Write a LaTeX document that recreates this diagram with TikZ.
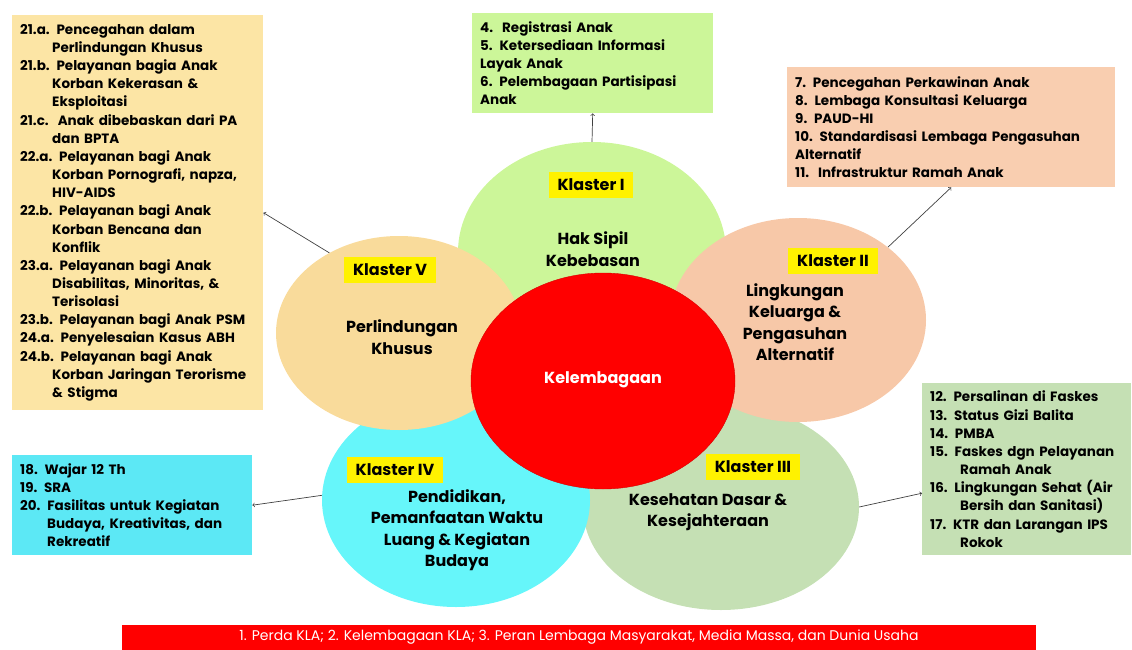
\documentclass[tikz,border=0pt]{standalone}
\usepackage{fontspec}
\setmainfont{Poppins}
\usetikzlibrary{shapes.geometric}

\definecolor{hijau}{RGB}{204,246,153}
\definecolor{peach}{RGB}{247,200,168}
\definecolor{peachbox}{RGB}{249,206,176}
\definecolor{sage}{RGB}{197,224,180}
\definecolor{sian}{RGB}{102,246,250}
\definecolor{sianbox}{RGB}{92,232,245}
\definecolor{kuning}{RGB}{249,219,155}
\definecolor{kuningbox}{RGB}{252,229,165}

\tikzset{
  petal/.style={ellipse, inner sep=0pt},
  listbox/.style={rectangle, anchor=north west, inner xsep=8pt, inner ysep=0pt, align=left,
    font=\fontsize{13.5}{18.15}\selectfont\bfseries},
  tag/.style={fill=yellow, inner xsep=9pt, inner ysep=7pt, font=\fontsize{16}{18}\selectfont\bfseries},
  petaltext/.style={align=center, font=\fontsize{16}{21.5}\selectfont\bfseries},
  link/.style={->, draw=black!75, line width=0.7pt}
}

\begin{document}
\begin{tikzpicture}[x=1pt, y=-1pt]
		%%%%% START %%%%%
		\useasboundingbox (0, 0) rectangle (1132, 650);
		
		% lists
		\node[listbox, fill=kuningbox, text width=235pt, minimum height=395pt] (perlindunganList) at (12, 15) {%
			21.a. Pencegahan dalam\\
			\hspace*{32pt}Perlindungan Khusus\\
			21.b. Pelayanan bagia Anak\\
			\hspace*{32pt}Korban Kekerasan \&\\
			\hspace*{32pt}Eksploitasi\\
			21.c.\ \ Anak dibebaskan dari PA\\
			\hspace*{32pt}dan BPTA\\
			22.a. Pelayanan bagi Anak\\
			\hspace*{32pt}Korban Pornografi, napza,\\
			\hspace*{32pt}HIV-AIDS\\
			22.b. Pelayanan bagi Anak\\
			\hspace*{32pt}Korban Bencana dan\\
			\hspace*{32pt}Konflik\\
			23.a. Pelayanan bagi Anak\\
			\hspace*{32pt}Disabilitas, Minoritas, \&\\
			\hspace*{32pt}Terisolasi\\
			23.b. Pelayanan bagi Anak PSM\\
			24.a. Penyelesaian Kasus ABH\\
			24.b. Pelayanan bagi Anak\\
			\hspace*{32pt}Korban Jaringan Terorisme\\
			\hspace*{32pt}\& Stigma};
		
		\node[listbox, fill=hijau, text width=225pt, minimum height=100pt] (hakList) at (472, 13) {%
			4.\ \ Registrasi Anak\\
			5. Ketersediaan Informasi\\
			Layak Anak\\
			6. Pelembagaan Partisipasi\\
			Anak};
		
		\node[listbox, fill=peachbox, text width=312pt, minimum height=120pt] (keluargaList) at (787, 67) {%
			7. Pencegahan Perkawinan Anak\\
			8. Lembaga Konsultasi Keluarga\\
			9. PAUD-HI\\
			10. Standardisasi Lembaga Pengasuhan\\
			Alternatif\\
			11.\ \ Infrastruktur Ramah Anak};
		
		\node[listbox, fill=sage, text width=193pt, minimum height=172pt] (kesehatanList) at (922, 383) {%
			12. Persalinan di Faskes\\
			13. Status Gizi Balita\\
			14. PMBA\\
			15. Faskes dgn Pelayanan\\
			\hspace*{30pt}Ramah Anak\\
			16. Lingkungan Sehat (Air\\
			\hspace*{30pt}Bersih dan Sanitasi)\\
			17. KTR dan Larangan IPS\\
			\hspace*{30pt}Rokok};
		
		\node[listbox, fill=sianbox, text width=224pt, minimum height=100pt] (pendidikanList) at (12, 455) {%
			18. Wajar 12 Th\\
			19. SRA\\
			20. Fasilitas untuk Kegiatan\\
			\hspace*{27pt}Budaya, Kreativitas, dan\\
			\hspace*{27pt}Rekreatif};
		
		% flower
		\node[petal, fill=hijau, minimum width=268pt, minimum height=220pt] (hak) at (592, 252) {};
		\node[petal, fill=sage, minimum width=276pt, minimum height=206pt] (kesehatan) at (721, 507) {};
		\node[petal, fill=peach, minimum width=256pt, minimum height=204pt] (keluarga) at (798, 320) {};
		\node[petal, fill=sian, minimum width=268pt, minimum height=214pt] (pendidikan) at (456, 500) {};
		\node[petal, fill=kuning, minimum width=246pt, minimum height=194pt] (perlindungan) at (399, 333) {};
		\node[petal, fill=red, draw=red!85!black, line width=0.4pt, minimum width=264pt, minimum height=216pt] (lembaga) at (603, 381) {};
		
		\node[tag] (tagI) at (591, 185) {Klaster I};
		\node[tag] (tagII) at (833, 261) {Klaster II};
		\node[tag] (tagIII) at (753, 467) {Klaster III};
		\node[tag] (tagIV) at (395, 470) {Klaster IV};
		\node[tag] (tagV) at (390, 270) {Klaster V};
		
		\node[petaltext] (hakText) at (593, 249) {Hak Sipil\\Kebebasan};
		\node[petaltext] (keluargaText) at (795, 322) {Lingkungan\\Keluarga \&\\Pengasuhan\\Alternatif};
		\node[petaltext] (kesehatanText) at (708, 512) {Kesehatan Dasar \&\\Kesejahteraan};
		\node[petaltext] (pendidikanText) at (457, 530) {Pendidikan,\\Pemanfaatan Waktu\\Luang \& Kegiatan\\Budaya};
		\node[petaltext] (perlindunganText) at (402, 337) {Perlindungan\\Khusus};
		\node[petaltext, text=white] (lembagaText) at (603, 380) {Kelembagaan};
		
		% arrows
		\draw[link] (hak.north) -- (hakList.south);
		\draw[link] (keluarga.39) -- (keluargaList.south);
		\draw[link] (kesehatan.east) -- ([yshift=-24pt]kesehatanList.west);
		\draw[link] (pendidikan.178) -- (pendidikanList.east);
		\draw[link] (perlindungan.131) -- (perlindunganList.east);
		
		% bottom bar
		\node[fill=red, text=white, minimum width=914pt, minimum height=25pt, inner sep=0pt,
			font=\fontsize{14}{16}\selectfont] (dasar) at (579, 637.5)
			{1. Perda KLA; 2. Kelembagaan KLA; 3. Peran Lembaga Masyarakat, Media Massa, dan Dunia Usaha};
		
		%%%%% END %%%%%
	\end{tikzpicture}
\end{document}
